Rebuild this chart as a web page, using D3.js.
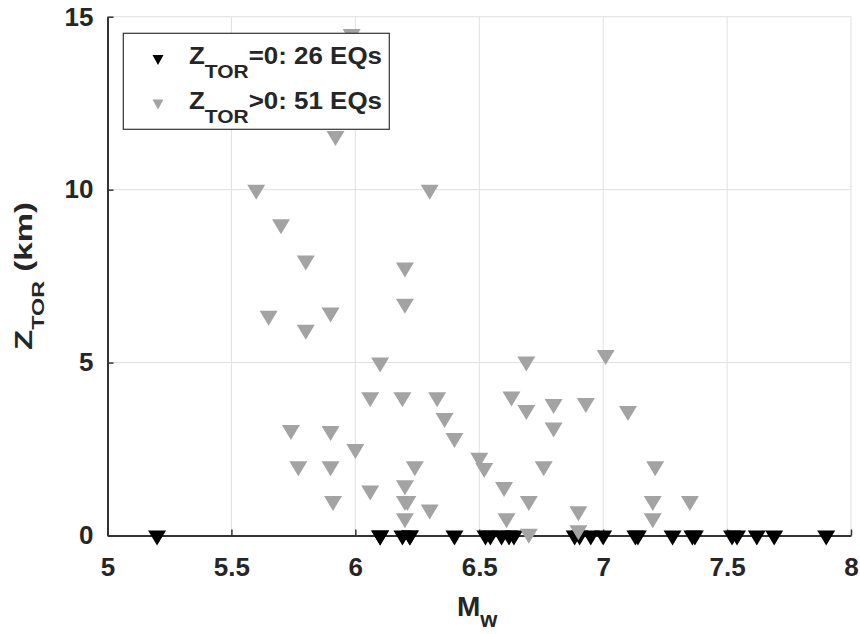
<!DOCTYPE html>
<html>
<head>
<meta charset="utf-8">
<script src="https://cdn.jsdelivr.net/npm/d3@7"></script>
<style>
  html, body { margin: 0; padding: 0; background: #ffffff; }
  svg { display: block; }
  text { font-family: "Liberation Sans", Arial, sans-serif; font-weight: bold; fill: #262626; }
</style>
</head>
<body>
<svg id="chart" width="860" height="634"></svg>
<script>
// Events with rupture reaching the surface (Z_TOR = 0)
const surfaceMw = [5.20, 6.10, 6.10, 6.19, 6.22, 6.22, 6.40, 6.525, 6.545, 6.59, 6.62, 6.64,
                   6.885, 6.905, 6.95, 7.00, 7.13, 7.14, 7.28, 7.36, 7.37, 7.52, 7.54, 7.62, 7.69, 7.90];
const surfaceZtor = [0, 0, 0, 0, 0, 0, 0, 0, 0, 0, 0, 0, 0,
                     0, 0, 0, 0, 0, 0, 0, 0, 0, 0, 0, 0, 0];

// Events with buried rupture (Z_TOR > 0)
const buriedMw = [5.60, 5.70, 5.80, 5.65, 5.80, 5.90, 5.92, 5.985, 6.30, 6.20, 6.20, 6.10,
                  6.06, 6.19, 6.33, 6.36, 6.40, 6.50, 6.52, 5.74, 5.90, 6.00, 5.77, 5.90,
                  5.91, 6.06, 6.20, 6.24, 6.20, 6.20, 6.30, 6.69, 6.63, 6.69, 6.80, 6.80,
                  6.93, 7.01, 7.10, 6.76, 6.60, 6.70, 6.61, 6.70, 6.90, 6.90, 7.21, 7.20,
                  7.20, 7.35, 6.21];
const buriedZtor = [10.0, 9.0, 7.95, 6.35, 5.95, 6.45, 11.55, 14.5, 10.0, 7.75, 6.7, 5.0,
                    4.0, 4.0, 4.0, 3.4, 2.82, 2.25, 1.95, 3.05, 3.02, 2.5, 2.0, 2.0,
                    1.0, 1.3, 1.45, 2.0, 1.0, 0.5, 0.75, 5.03, 4.02, 3.63, 3.8, 3.12,
                    3.83, 5.22, 3.6, 2.0, 1.4, 1.0, 0.5, 0.05, 0.7, 0.15, 2.0, 1.0,
                    0.5, 1.0, 1.0];

// Axis ticks
const mwTicks = [5, 5.5, 6, 6.5, 7, 7.5, 8];
const ztorTicks = [0, 5, 10, 15];

// Legend entries
const legendCounts = [26, 51];
const legendRelations = ["=0", ">0"];

const svg = d3.select("#chart");
const plotL = 107.5, plotR = 851, plotT = 16.7, plotB = 535.5;
const x = d3.scaleLinear().domain([5, 8]).range([plotL, plotR]);
const y = d3.scaleLinear().domain([0, 15]).range([plotB, plotT]);

const axisColor = "#333333";
const gridColor = "#e0e0e0";
const grayFill = "#a3a3a3";

// grid
const grid = svg.append("g");
grid.selectAll("line.gx").data(mwTicks.slice(1)).join("line")
  .attr("class", "gx")
  .attr("x1", d => x(d)).attr("x2", d => x(d))
  .attr("y1", plotT).attr("y2", plotB)
  .attr("stroke", gridColor).attr("stroke-width", 1);
grid.selectAll("line.gy").data(ztorTicks.slice(1)).join("line")
  .attr("class", "gy")
  .attr("x1", plotL).attr("x2", plotR)
  .attr("y1", d => y(d)).attr("y2", d => y(d))
  .attr("stroke", gridColor).attr("stroke-width", 1);

// axes (ticks point inward)
const xAxis = d3.axisBottom(x).tickValues(mwTicks).tickFormat(d3.format("~g"))
  .tickSizeInner(-6).tickSizeOuter(0).tickPadding(22);
const yAxis = d3.axisLeft(y).tickValues(ztorTicks).tickFormat(d3.format("~g"))
  .tickSizeInner(-6).tickSizeOuter(0).tickPadding(14);

const gx = svg.append("g").attr("transform", `translate(0,${plotB})`).call(xAxis);
const gy = svg.append("g").attr("transform", `translate(${plotL},0)`).call(yAxis);
[gx, gy].forEach(g => {
  g.select(".domain").attr("stroke", axisColor).attr("stroke-width", 2);
  g.selectAll(".tick line").attr("stroke", axisColor).attr("stroke-width", 1.5);
  g.selectAll(".tick text").attr("font-size", 26).attr("font-family", null)
    .style("fill", "#262626");
});

// markers: downward triangles centred on their centroid
const tri = "M-9,-5L9,-5L0,10Z";
const surface = surfaceMw.map((m, i) => ({ m, z: surfaceZtor[i] }));
const buried = buriedMw.map((m, i) => ({ m, z: buriedZtor[i] }));

svg.append("g").selectAll("path").data(surface).join("path")
  .attr("d", tri)
  .attr("transform", d => `translate(${x(d.m)},${y(d.z)})`)
  .attr("fill", "#000000");
svg.append("g").selectAll("path").data(buried).join("path")
  .attr("d", tri)
  .attr("transform", d => `translate(${x(d.m)},${y(d.z)})`)
  .attr("fill", grayFill);

// helper: label made of main text and a subscript
function subLabel(g, main, sub, rest, fs, ss, drop) {
  const t = g.append("text").attr("x", 0).attr("y", 0);
  t.append("tspan").attr("font-size", fs).text(main);
  t.append("tspan").attr("font-size", ss).attr("dy", drop).text(sub);
  if (rest) t.append("tspan").attr("font-size", fs).attr("dy", -drop).text(rest);
  return t;
}

// legend
const legend = svg.append("g");
legend.append("rect")
  .attr("x", 123.3).attr("y", 33.3).attr("width", 266).attr("height", 96)
  .attr("fill", "#ffffff").attr("stroke", "#333333").attr("stroke-width", 1.2);
const legendColors = ["#000000", grayFill];
const rowY = [64, 108.5];
legendCounts.forEach((count, i) => {
  legend.append("path").attr("d", "M-5.5,-3.5L5.5,-3.5L0,6.5Z")
    .attr("transform", `translate(158,${rowY[i] - 5.5})`)
    .attr("fill", legendColors[i]);
  const g = legend.append("g");
  const t = subLabel(g, "Z", "TOR", `${legendRelations[i]}: ${count} EQs`, 23.5, 19, 14);
  const w = t.node().getComputedTextLength();
  g.attr("transform", `translate(189,${rowY[i]}) scale(${193 / w},1)`);
});

// x label
const xl = svg.append("g").attr("transform", "translate(457,616)");
subLabel(xl, "M", "w", null, 28, 22, 11);

// y label
const yl = svg.append("g");
const yt = subLabel(yl, "Z", "TOR", " (km)", 24, 17, 12);
const yw = yt.node().getComputedTextLength();
yl.attr("transform", `translate(31.7,${276 + 148 / 2}) rotate(-90) scale(${148 / yw},1)`);
</script>
</body>
</html>
